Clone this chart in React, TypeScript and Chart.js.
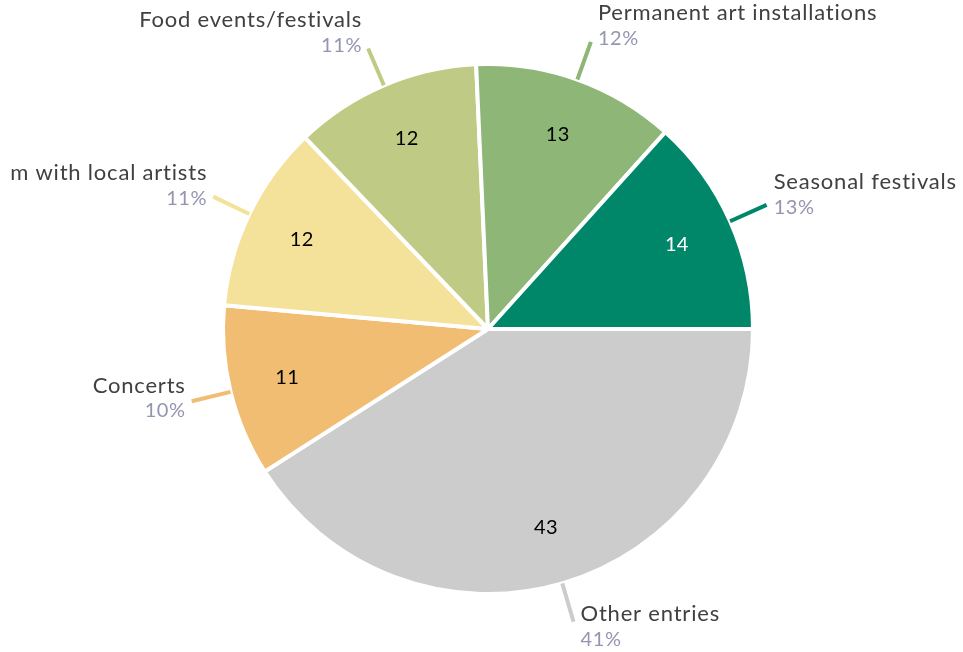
import React, { useEffect, useRef } from "react";
import { Chart, registerables } from "chart.js";

Chart.register(...registerables);

const categories = [
  "Other entries",
  "Concerts",
  "Art program with local artists",
  "Food events/festivals",
  "Permanent art installations",
  "Seasonal festivals",
];
const values = [43, 11, 12, 12, 13, 14];
const colors = ["#cccccc", "#f0bd72", "#f4e29b", "#bfcb84", "#8db677", "#00876a"];
const valueTextColors = ["#000000", "#000000", "#000000", "#000000", "#000000", "#ffffff"];

const FONT = "Lato, 'Open Sans', sans-serif";

const labelPlugin = {
  id: "pieLabels",
  afterDatasetsDraw(chart: any) {
    const ctx = chart.ctx as any;
    const meta = chart.getDatasetMeta(0);
    const data = chart.data.datasets[0].data as number[];
    const total = data.reduce((a, b) => a + b, 0);
    ctx.save();
    // text area (labels are clipped at the chart's inner margin)
    ctx.beginPath();
    ctx.rect(9, 0, chart.width - 9, chart.height);
    ctx.clip();
    meta.data.forEach((arc: any, i: number) => {
      const { x, y, startAngle, endAngle, outerRadius } = arc.getProps(
        ["x", "y", "startAngle", "endAngle", "outerRadius"],
        true
      );
      const mid = (startAngle + endAngle) / 2;
      const c = Math.cos(mid);
      const s = Math.sin(mid);
      // value inside
      const rv = outerRadius * 0.78;
      ctx.letterSpacing = "0.3px";
      ctx.font = `20px ${FONT}`;
      ctx.fillStyle = valueTextColors[i];
      ctx.textAlign = "center";
      ctx.textBaseline = "middle";
      ctx.fillText(String(data[i]), x + c * rv, y + s * rv);
      // leader line
      const r1 = outerRadius;
      const r2 = outerRadius + 40;
      const ex = x + c * r2;
      const ey = y + s * r2;
      ctx.strokeStyle = colors[i];
      ctx.lineWidth = 4;
      ctx.beginPath();
      ctx.moveTo(x + c * r1, y + s * r1);
      ctx.lineTo(ex, ey);
      ctx.stroke();
      // text
      const left = c < 0;
      const tx = left ? ex - 6 : ex + 7;
      const cy = ey - 6 + 11 * s;
      ctx.textAlign = left ? "right" : "left";
      ctx.letterSpacing = "0.8px";
      ctx.font = `22px ${FONT}`;
      ctx.fillStyle = "#404040";
      ctx.fillText(categories[i], tx, cy - 12.5);
      ctx.letterSpacing = "0.6px";
      ctx.font = `20px ${FONT}`;
      ctx.fillStyle = "#9495b0";
      const pct = Math.round((data[i] / total) * 100) + "%";
      ctx.fillText(pct, tx, cy + 13);
    });
    ctx.restore();
  },
};

export default function App() {
  const ref = useRef<HTMLCanvasElement>(null);
  useEffect(() => {
    document.body.style.margin = "0";
    const chart = new Chart(ref.current!, {
      type: "pie",
      data: {
        labels: categories,
        datasets: [
          {
            data: values,
            backgroundColor: colors,
            borderColor: "#ffffff",
            borderWidth: 4,
          },
        ],
      },
      options: {
        responsive: false,
        animation: false,
        rotation: 90,
        layout: { padding: { left: 221, right: 208, top: 62, bottom: 56 } },
        plugins: {
          legend: { display: false },
          tooltip: { enabled: false },
        },
      },
      plugins: [labelPlugin],
    });
    return () => chart.destroy();
  }, []);
  return (
    <div style={{ width: 963, height: 652 }}>
      <canvas ref={ref} width={963} height={652} />
    </div>
  );
}
